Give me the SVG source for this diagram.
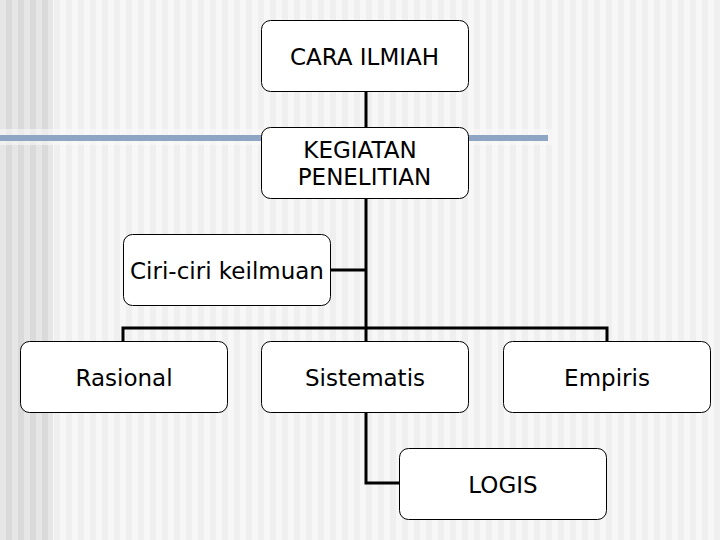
<svg xmlns="http://www.w3.org/2000/svg" width="720" height="540" viewBox="0 0 720 540">
<style>
.box{fill:#ffffff;stroke:#000000;stroke-width:1}
.lbl{font-family:"DejaVu Sans",Verdana,sans-serif;font-size:23px;fill:#000000;text-anchor:middle}
.conn{fill:none;stroke:#000000;stroke-width:3}
</style>
<defs>
<pattern id="light" x="0" y="0" width="12" height="540" patternUnits="userSpaceOnUse">
<rect x="0" y="0" width="6" height="540" fill="#f7f7f7"/>
<rect x="6" y="0" width="6" height="540" fill="#efefef"/>
</pattern>
<pattern id="dark" x="0" y="0" width="12" height="540" patternUnits="userSpaceOnUse">
<rect x="0" y="0" width="6" height="540" fill="#e6e6e6"/>
<rect x="6" y="0" width="6" height="540" fill="#dadada"/>
</pattern>
</defs>
<g id="background">
<rect x="0" y="0" width="720" height="540" fill="url(#light)"/>
<rect x="0" y="0" width="53" height="540" fill="url(#dark)"/>
<rect x="0" y="129" width="552" height="16" fill="#f9f9f9" opacity="0.6"/>
<rect x="0" y="135" width="548" height="6" fill="#8ea6c4"/>
</g>
<g id="connectors">
<line class="conn" x1="366" y1="91" x2="366" y2="127"/>
<line class="conn" x1="366" y1="198" x2="366" y2="341"/>
<line class="conn" x1="330" y1="270" x2="366" y2="270"/>
<polyline class="conn" points="123,341 123,328 607,328 607,341"/>
<polyline class="conn" points="366,412 366,483 399,483"/>
</g>
<g id="cara-ilmiah">
<rect class="box" x="261.5" y="20.5" width="207" height="71" rx="9"/>
<text class="lbl" x="364.5" y="65">CARA ILMIAH</text>
</g>
<g id="kegiatan-penelitian">
<rect class="box" x="261.5" y="127.5" width="207" height="71" rx="9"/>
<text class="lbl" x="360" y="158">KEGIATAN</text>
<text class="lbl" x="364.5" y="185">PENELITIAN</text>
</g>
<g id="ciri-ciri">
<rect class="box" x="123.5" y="234.5" width="207" height="71" rx="9"/>
<text class="lbl" x="227" y="279">Ciri-ciri keilmuan</text>
</g>
<g id="rasional">
<rect class="box" x="20.5" y="341.5" width="207" height="71" rx="9"/>
<text class="lbl" x="124" y="386">Rasional</text>
</g>
<g id="sistematis">
<rect class="box" x="261.5" y="341.5" width="207" height="71" rx="9"/>
<text class="lbl" x="365" y="386">Sistematis</text>
</g>
<g id="empiris">
<rect class="box" x="503.5" y="341.5" width="207" height="71" rx="9"/>
<text class="lbl" x="607" y="386">Empiris</text>
</g>
<g id="logis">
<rect class="box" x="399.5" y="448.5" width="207" height="71" rx="9"/>
<text class="lbl" x="503" y="493">LOGIS</text>
</g>
</svg>
